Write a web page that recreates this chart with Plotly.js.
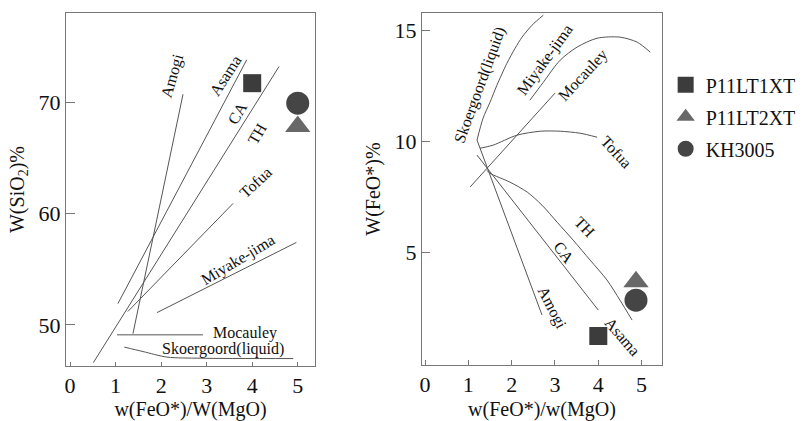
<!DOCTYPE html>
<html>
<head>
<meta charset="utf-8">
<script src="https://cdn.plot.ly/plotly-3.0.1.min.js"></script>
<style>html,body{margin:0;padding:0;background:#fff;}#chart{width:802px;height:421px;}</style>
</head>
<body>
<div id="chart"></div>
<script>
// ---------- Data: SiO2 vs FeO*/MgO (left) ----------
const siAmogiX = [2.48, 1.38];
const siAmogiY = [70.7, 49.2];
const siAsamaX = [1.05, 3.88];
const siAsamaY = [51.9, 73.8];
const siCaThX = [0.51, 4.59];
const siCaThY = [46.6, 73.2];
const siTofuaX = [1.27, 3.58];
const siTofuaY = [51.2, 60.9];
const siMiyakeX = [1.91, 4.97];
const siMiyakeY = [51.1, 57.4];
const siMocauleyX = [1.03, 2.92];
const siMocauleyY = [49.1, 49.1];
const siSkoerX = [1.19, 1.60, 2.13, 2.86, 4.90];
const siSkoerY = [48.0, 47.6, 47.1, 47.0, 46.97];

// ---------- Data: FeO* vs FeO*/MgO (right) ----------
const feSkoerX = [2.73, 2.47, 2.24, 2.08, 1.89, 1.66, 1.50, 1.34, 1.20];
const feSkoerY = [15.70, 15.25, 14.71, 14.21, 13.53, 12.54, 11.77, 11.05, 10.06];
const feAmogiX = [1.20, 2.70];
const feAmogiY = [10.06, 2.16];
const feCaX = [1.20, 4.00];
const feCaY = [9.38, 2.38];
const feThX = [1.43, 1.50, 1.96, 2.36, 2.70, 3.05, 3.42, 3.81, 4.20, 4.50, 4.78];
const feThY = [8.69, 8.56, 8.16, 7.71, 7.12, 6.35, 5.54, 4.64, 3.74, 2.83, 1.93];
const feTofuaX = [1.27, 1.57, 2.12, 2.66, 3.12, 3.58, 3.97];
const feTofuaY = [9.69, 9.83, 10.28, 10.46, 10.46, 10.37, 10.19];
const feMocauleyX = [1.04, 3.00];
const feMocauleyY = [7.94, 12.18];
const feMiyakeX = [2.42, 2.73, 3.12, 3.51, 3.97, 4.50, 4.90, 5.20];
const feMiyakeY = [11.86, 12.67, 13.67, 14.26, 14.66, 14.71, 14.48, 14.03];

// ---------- Samples ----------
const sampleNames = ['P11LT1XT', 'P11LT2XT', 'KH3005'];
const sampleRatioSi = [4.0, 5.0, 5.0];
const sampleSiO2 = [71.7, 67.8, 69.9];
const sampleRatioFe = [4.0, 4.87, 4.87];
const sampleFeO = [1.21, 3.66, 2.83];

// ---------- Tick labels ----------
const xTicks = [0, 1, 2, 3, 4, 5];
const siTicks = [50, 60, 70];
const feTicks = [5, 10, 15];

// ---------- Curve labels ----------
const siLabelText = ['Amogi', 'Asama', 'CA', 'TH', 'Tofua', 'Miyake-jima', 'Mocauley', 'Skoergoord(liquid)'];
const siLabelX = [2.26, 3.41, 3.67, 4.11, 4.07, 3.69, 3.85, 3.36];
const siLabelY = [72.4, 72.4, 69.0, 67.2, 62.8, 55.8, 49.3, 47.8];
const siLabelAngle = [-74, -57, -60, -60, -43, -31, 0, 0];

const feLabelText = ['Skoergoord(liquid)', 'Miyake-jima', 'Mocauley', 'Tofua', 'TH', 'CA', 'Amogi', 'Asama'];
const feLabelX = [1.27, 2.77, 3.65, 4.43, 3.70, 3.21, 2.93, 4.55];
const feLabelY = [12.54, 13.67, 13.0, 9.52, 6.13, 5.0, 2.46, 1.17];
const feLabelAngle = [-70, -54, -47, 47, 46, 53, 63, 49];

// ---------- Styles ----------
const FONT = 'Liberation Serif, Times New Roman, serif';
const TXT = '#111';
const lineStyle = {color: '#555', width: 1};
const symbols = ['square', 'triangle-up', 'circle'];
const colors = ['#3c3c3c', '#686868', '#454545'];
const sizes = [18, 22, 23];

const traces = [];
function addLine(x, y, xa, ya, shape) {
  traces.push({x: x, y: y, xaxis: xa, yaxis: ya, mode: 'lines', type: 'scatter',
    line: Object.assign({shape: shape || 'linear', smoothing: 0.8}, lineStyle),
    showlegend: false, hoverinfo: 'skip'});
}
addLine(siAmogiX, siAmogiY, 'x', 'y');
addLine(siAsamaX, siAsamaY, 'x', 'y');
addLine(siCaThX, siCaThY, 'x', 'y');
addLine(siTofuaX, siTofuaY, 'x', 'y');
addLine(siMiyakeX, siMiyakeY, 'x', 'y');
addLine(siMocauleyX, siMocauleyY, 'x', 'y');
addLine(siSkoerX, siSkoerY, 'x', 'y', 'spline');

addLine(feSkoerX, feSkoerY, 'x2', 'y2', 'spline');
addLine(feAmogiX, feAmogiY, 'x2', 'y2');
addLine(feCaX, feCaY, 'x2', 'y2');
addLine(feThX, feThY, 'x2', 'y2', 'spline');
addLine(feTofuaX, feTofuaY, 'x2', 'y2', 'spline');
addLine(feMocauleyX, feMocauleyY, 'x2', 'y2');
addLine(feMiyakeX, feMiyakeY, 'x2', 'y2', 'spline');

for (let i = 0; i < sampleNames.length; i++) {
  traces.push({x: [sampleRatioSi[i]], y: [sampleSiO2[i]], xaxis: 'x', yaxis: 'y',
    type: 'scatter', mode: 'markers', name: sampleNames[i], legendgroup: sampleNames[i],
    marker: {symbol: symbols[i], color: colors[i], size: sizes[i]}, showlegend: true});
  traces.push({x: [sampleRatioFe[i]], y: [sampleFeO[i]], xaxis: 'x2', yaxis: 'y2',
    type: 'scatter', mode: 'markers', name: sampleNames[i], legendgroup: sampleNames[i],
    marker: {symbol: symbols[i], color: colors[i], size: sizes[i]}, showlegend: false});
}

const annotations = [];
siLabelText.forEach((t, i) => annotations.push({text: t, x: siLabelX[i], y: siLabelY[i],
  xref: 'x', yref: 'y', showarrow: false, textangle: siLabelAngle[i],
  font: {family: FONT, size: 16, color: TXT}}));
feLabelText.forEach((t, i) => annotations.push({text: t, x: feLabelX[i], y: feLabelY[i],
  xref: 'x2', yref: 'y2', showarrow: false, textangle: feLabelAngle[i],
  font: {family: FONT, size: 16, color: TXT}}));

const axisCommon = {showgrid: false, zeroline: false, showline: true, mirror: true,
  linecolor: '#777', linewidth: 1, ticks: 'inside', tickcolor: '#777', tickwidth: 1,
  tickfont: {family: FONT, size: 22, color: TXT}, fixedrange: true, automargin: false};

const layout = {
  width: 802, height: 421,
  margin: {l: 0, r: 0, t: 0, b: 0},
  paper_bgcolor: '#fff', plot_bgcolor: '#fff',
  font: {family: FONT, color: TXT},
  showlegend: true,
  legend: {x: 0.83, y: 0.845, xanchor: 'left', yanchor: 'top', tracegroupgap: 3,
    font: {family: FONT, size: 20, color: TXT}, bgcolor: 'rgba(0,0,0,0)', itemwidth: 30},
  xaxis: Object.assign({}, axisCommon, {domain: [0.0823, 0.3928], range: [-0.09, 5.38],
    tickvals: xTicks, ticklen: 4, anchor: 'y',
    title: {text: 'w(FeO*)/W(MgO)', font: {family: FONT, size: 20, color: TXT}, standoff: 10}}),
  yaxis: Object.assign({}, axisCommon, {domain: [0.1306, 0.9691], range: [46.3, 78.0],
    tickvals: siTicks, ticklen: 9, anchor: 'x',
    title: {text: 'W(SiO<sub>2</sub>)%', font: {family: FONT, size: 20, color: TXT}, standoff: 8}}),
  xaxis2: Object.assign({}, axisCommon, {domain: [0.5262, 0.8254], range: [-0.07, 5.47],
    tickvals: xTicks, ticklen: 5, anchor: 'y2',
    title: {text: 'w(FeO*)/w(MgO)', font: {family: FONT, size: 20, color: TXT}, standoff: 10}}),
  yaxis2: Object.assign({}, axisCommon, {domain: [0.1330, 0.9691], range: [-0.1, 15.8],
    tickvals: feTicks, ticklen: 8, anchor: 'x2',
    title: {text: 'W(FeO*)%', font: {family: FONT, size: 20, color: TXT}, standoff: 8}}),
  annotations: annotations
};

Plotly.newPlot('chart', traces, layout, {displayModeBar: false, staticPlot: true});
</script>
</body>
</html>
